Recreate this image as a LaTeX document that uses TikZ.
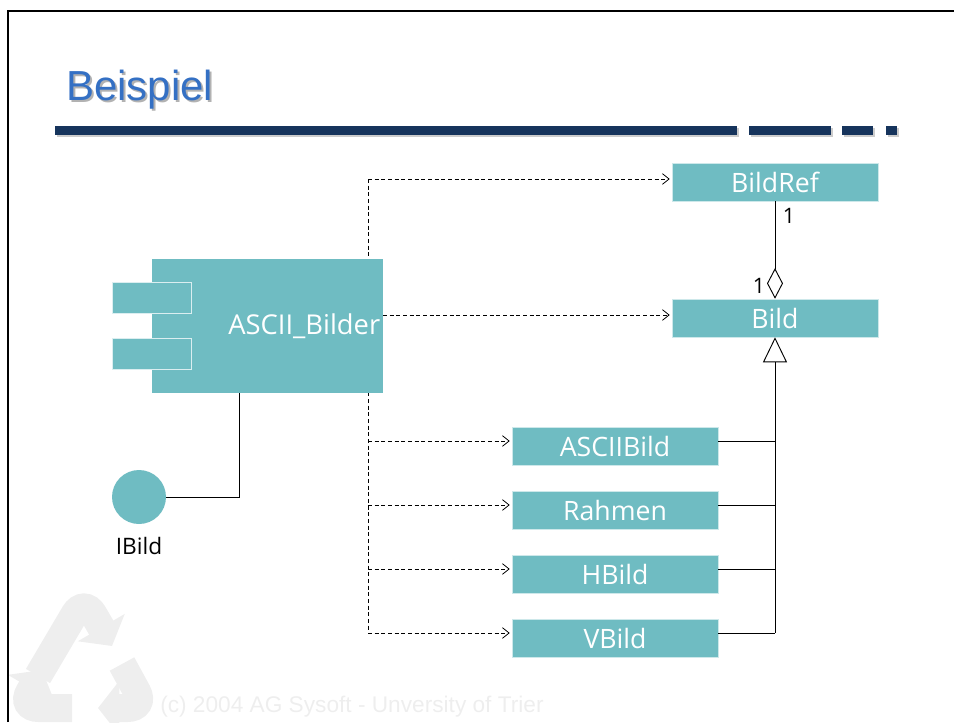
\documentclass[tikz,border=0pt]{standalone}
\usepackage{fontspec}
\setsansfont{Open Sans}
\newfontfamily\arialfont{Liberation Sans}
\usetikzlibrary{positioning,calc,arrows.meta}
\definecolor{boxteal}{RGB}{111,188,194}
\definecolor{titleblue}{RGB}{52,112,196}
\definecolor{barblue}{RGB}{22,52,92}
\definecolor{markgray}{RGB}{238,238,238}
\tikzset{
	cls/.style={fill=boxteal, draw=boxteal!35!white, line width=0.4pt, text=white,
		font=\sffamily\fontsize{20}{22}\selectfont,
		minimum width=154.5pt, minimum height=28.5pt, inner sep=0pt},
	comp/.style={fill=boxteal, text=white, font=\sffamily\fontsize{20.5}{22}\selectfont,
		text width=169pt, align=right, inner xsep=2pt, minimum height=100.5pt},
	port/.style={fill=boxteal, draw=boxteal!25!white, line width=0.6pt,
		minimum width=59.25pt, minimum height=23.25pt, inner sep=0pt},
	iface/.style={circle, fill=boxteal, minimum size=40.5pt, inner sep=0pt},
	dep/.style={dash pattern=on 3pt off 2pt, line width=0.6pt,
		-{Straight Barb[length=5pt,width=8pt]}, shorten >=1.5pt},
	gen/.style={line width=0.7pt},
	mult/.style={font=\sffamily\fontsize{16}{18}\selectfont, inner sep=0pt},
}

\begin{document}
\begin{tikzpicture}[x=0.75pt,y=-0.75pt]
	\useasboundingbox (0,0) rectangle (954,722);

	% recycling mark and footer
	\begin{scope}[markgray, line width=21pt, rounded corners=14pt]
		\draw[-{Triangle[length=16pt,width=40pt]}] (38,676) -- (84,598) -- (112,646);
		\draw[-{Triangle[length=16pt,width=40pt]}] (122,664) -- (146,708) -- (98,708);
		\draw[-{Triangle[length=16pt,width=40pt]}] (72,708) -- (20,708) -- (42,670);
	\end{scope}
	\node[anchor=base west, inner sep=0pt, text=markgray, font=\arialfont\fontsize{17}{19}\selectfont]
		(footer) at (160,712) {(c) 2004 AG Sysoft - Unversity of Trier};

	\draw[line width=1.9pt] (8,722) -- (8,11) -- (954,11);

	% title and bar
	\node[anchor=base west, inner sep=0pt, text=black!30, font=\arialfont\fontsize{31.5}{34}\selectfont]
		at (68,102) {Beispiel};
	\node[anchor=base west, inner sep=0pt, text=titleblue, font=\arialfont\fontsize{31.5}{34}\selectfont]
		(title) at (66,100) {Beispiel};
	\foreach \a/\b in {55/737, 749/831, 842/873, 886/897} {
		\fill[black!20] (\a+1.5,127.5) rectangle (\b+1.5,136.5);
		\fill[barblue] (\a,126) rectangle (\b,135);
	}

	\coordinate (bustop) at (368,179);
	\coordinate (busbot) at (368,633);
	\draw[dep, -] (bustop) -- (busbot);

	\node[cls] (bildref) at (775,182) {BildRef};
	\node[cls] (bild) at (775,318) {Bild};
	\node[cls] (asciibild) at (615,446) {ASCIIBild};
	\node[cls] (rahmen) at (615,510) {Rahmen};
	\node[cls] (hbild) at (615,574) {HBild};
	\node[cls] (vbild) at (615,638) {VBild};

	\node[comp] (ascii) at (267.5,326) {ASCII\_Bilder};
	\node[port] (porta) at (151.5,297.5) {};
	\node[port] (portb) at (151.5,353.5) {};

	\node[iface] (ibild) at (139,497) {};
	\node[mult, font=\sffamily\fontsize{17}{19}\selectfont] (ibildlbl) at (139,546) {IBild};
	\coordinate (knick) at (239,497);
	\draw[gen] (ascii.south -| knick) -- (knick) -- (ibild.east);

	\draw[dep] (bustop) -- (bustop -| bildref.west);
	\coordinate (aout) at (383,315);
	\draw[dep] (aout) -- (aout -| bild.west);
	\foreach \n/\y in {asciibild/441, rahmen/505, hbild/569, vbild/633}
		\draw[dep] (368,\y) -- (\n.west |- 368,\y);

	\coordinate (gsplit) at (775,633);
	\draw[gen, {Triangle[open, length=18.75pt, width=18pt]}-] (bild.south) -- (gsplit);
	\foreach \n/\y in {asciibild/441, rahmen/505, hbild/569, vbild/633}
		\draw[gen] (\n.east |- 0,\y) -- (gsplit |- 0,\y);

	\draw[gen, {Diamond[open, length=23pt, width=12pt]}-] (bild.north) -- (bildref.south);
	\node[mult] (m1) at (789,216) {1};
	\node[mult] (m2) at (759,286) {1};
\end{tikzpicture}
\end{document}
